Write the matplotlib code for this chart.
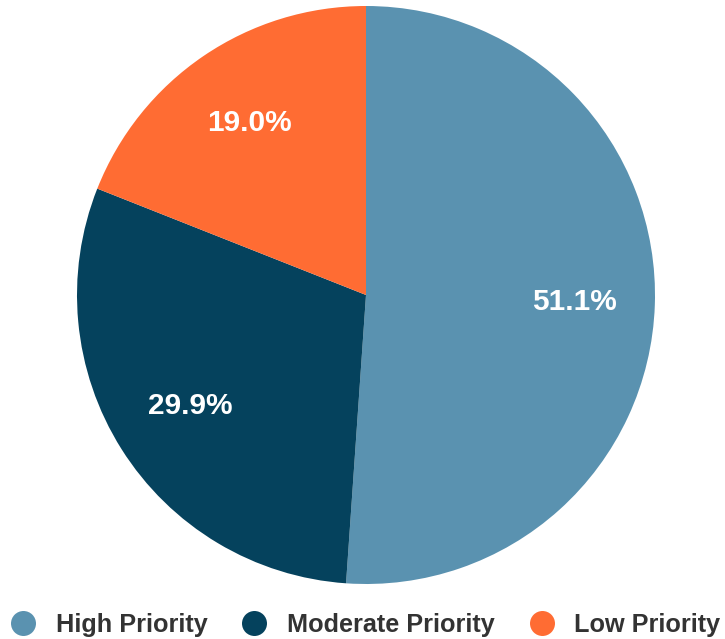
import matplotlib

matplotlib.use("Agg")
import matplotlib.pyplot as plt
from matplotlib.lines import Line2D

labels = ["High Priority", "Moderate Priority", "Low Priority"]
shares = [51.1, 29.9, 19.0]
colors = ["#5A92B0", "#05425D", "#FF6C33"]

plt.rcParams["font.family"] = ["Liberation Sans", "DejaVu Sans"]

W, H = 725, 639
fig = plt.figure(figsize=(W / 100, H / 100), dpi=100)

# pie centre and radius in pixels
cx, cy, r = 366, 639 - 295, 289
ax = fig.add_axes([(cx - r) / W, (cy - r) / H, 2 * r / W, 2 * r / H])
wedges, _, autotexts = ax.pie(
    shares,
    colors=colors,
    startangle=90,
    counterclock=False,
    autopct=lambda p: f"{p:.1f}%",
    pctdistance=0.72,
    radius=1.0,
    wedgeprops={"linewidth": 0},
    textprops={"color": "white", "fontsize": 21.5, "fontweight": "bold"},
)
ax.set_xlim(-1, 1)
ax.set_ylim(-1, 1)
ax.set_aspect("equal")
ax.axis("off")

handles = [
    Line2D([], [], marker="o", linestyle="", markersize=18, markerfacecolor=c, markeredgewidth=0)
    for c in colors
]
fig.legend(
    handles,
    labels,
    loc="center",
    bbox_to_anchor=(0.504, (639 - 625) / H),
    ncol=3,
    frameon=False,
    handletextpad=0.8,
    columnspacing=1.35,
    handlelength=1.0,
    prop={"size": 18.2, "weight": "bold"},
    labelcolor="#333333",
)

fig.savefig("out.png", dpi=100)
